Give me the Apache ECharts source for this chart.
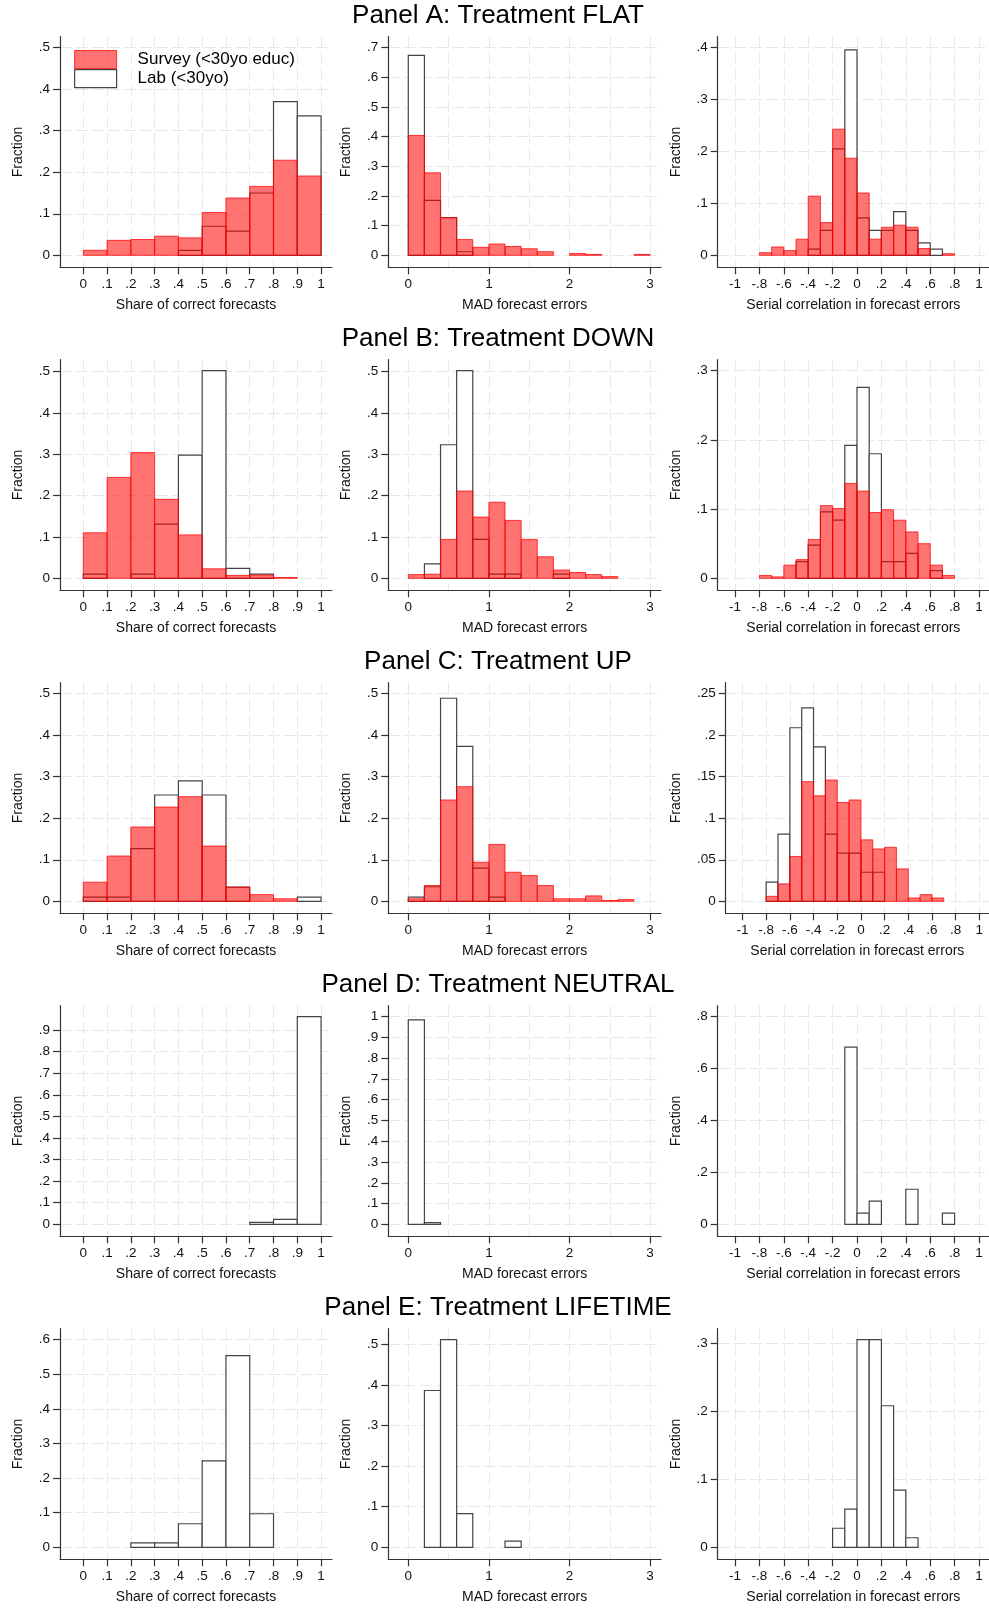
<!DOCTYPE html>
<html>
<head>
<meta charset="utf-8">
<script src="https://cdn.jsdelivr.net/npm/echarts@6/dist/echarts.min.js"></script>
<style>
  html, body { margin: 0; padding: 0; background: #fff; }
  #main { width: 989px; height: 1608px; }
</style>
</head>
<body>
<div id="main"></div>
<script>
// bin left edges
var shareBins = [0, .1, .2, .3, .4, .5, .6, .7, .8, .9];
var madBins = [0, .2, .4, .6, .8, 1, 1.2, 1.4, 1.6, 1.8, 2, 2.2, 2.4, 2.6, 2.8];
var corrBins = [-.8, -.7, -.6, -.5, -.4, -.3, -.2, -.1, 0, .1, .2, .3, .4, .5, .6, .7];

// tick labels
var shareTicks = [0, .1, .2, .3, .4, .5, .6, .7, .8, .9, 1];
var madTicks = [0, 1, 2, 3];
var madGridVals = [0, .5, 1, 1.5, 2, 2.5, 3];
var corrTicks = [-1, -.8, -.6, -.4, -.2, 0, .2, .4, .6, .8, 1];
var yTickMax = [.5, .7, .4, .5, .5, .3, .5, .5, .25, .9, 1, .8, .6, .5, .3];
var yTickStep = [.1, .1, .1, .1, .1, .1, .1, .1, .05, .1, .1, .2, .1, .1, .1];

var titles = ['Panel A: Treatment FLAT', 'Panel B: Treatment DOWN', 'Panel C: Treatment UP',
              'Panel D: Treatment NEUTRAL', 'Panel E: Treatment LIFETIME'];

// Panel A: FLAT
var flatShareSurvey = [.012, .036, .038, .046, .042, .103, .138, .166, .229, .191];
var flatShareLab = [0, 0, 0, 0, .012, .070, .058, .150, .370, .336];
var flatMadSurvey = [.404, .278, .127, .053, .027, .038, .030, .022, .012, 0, .006, .003, 0, 0, .003];
var flatMadLab = [.674, .185, .127, .012, 0, 0, 0, 0, 0, 0, 0, 0, 0, 0, 0];
var flatCorrSurvey = [.005, .016, .009, .031, .114, .063, .243, .187, .120, .031, .054, .058, .054, .013, 0, .003];
var flatCorrLab = [0, 0, 0, 0, .012, .048, .205, .396, .072, .048, .048, .084, .048, .024, .012, 0];

// Panel B: DOWN
var downShareSurvey = [.110, .244, .304, .191, .105, .023, .007, .008, .002, 0];
var downShareLab = [.010, 0, .010, .131, .298, .502, .024, .010, 0, 0];
var downMadSurvey = [.009, .010, .094, .211, .148, .184, .140, .094, .052, .020, .014, .009, .004, 0, 0];
var downMadLab = [0, .035, .323, .502, .094, .010, .010, 0, 0, .010, 0, 0, 0, 0, 0];
var downCorrSurvey = [.004, .002, .019, .027, .056, .105, .101, .137, .126, .095, .099, .084, .067, .050, .019, .004];
var downCorrLab = [0, 0, 0, .024, .048, .096, .084, .192, .276, .180, .024, .024, .036, 0, .011, 0];

// Panel C: UP
var upShareSurvey = [.046, .109, .179, .227, .252, .133, .034, .016, .006, 0];
var upShareLab = [.010, .010, .127, .256, .290, .256, .034, 0, 0, .010];
var upMadSurvey = [.006, .038, .244, .276, .094, .137, .070, .062, .038, .006, .006, .013, .002, .004, 0];
var upMadLab = [.010, .035, .489, .373, .080, .010, 0, 0, 0, 0, 0, 0, 0, 0, 0];
var upCorrSurvey = [.006, .021, .054, .144, .127, .146, .119, .122, .074, .063, .065, .039, .004, .008, .004, 0];
var upCorrLab = [.023, .081, .209, .233, .186, .081, .058, .058, .035, .035, 0, 0, 0, 0, 0, 0];

// Panel D: NEUTRAL (lab only)
var neutralShareLab = [0, 0, 0, 0, 0, 0, 0, .009, .023, .962];
var neutralMadLab = [.985, .008, 0, 0, 0, 0, 0, 0, 0, 0, 0, 0, 0, 0, 0];
var neutralCorrLab = [0, 0, 0, 0, 0, 0, 0, .683, .043, .089, 0, 0, .135, 0, 0, .043];

// Panel E: LIFETIME (lab only)
var lifetimeShareLab = [0, 0, .013, .013, .068, .250, .554, .097, 0, 0];
var lifetimeMadLab = [0, .386, .511, .083, 0, 0, .015, 0, 0, 0, 0, 0, 0, 0, 0];
var lifetimeCorrLab = [0, 0, 0, 0, 0, 0, .028, .056, .305, .305, .208, .084, .014, 0, 0, 0];

var SURVEY = 'Survey (<30yo educ)';
var LAB = 'Lab (<30yo)';
var FONT = '"Liberation Sans", Arial, Helvetica, sans-serif';

var rows = [
    [[flatShareSurvey, flatShareLab], [flatMadSurvey, flatMadLab], [flatCorrSurvey, flatCorrLab]],
    [[downShareSurvey, downShareLab], [downMadSurvey, downMadLab], [downCorrSurvey, downCorrLab]],
    [[upShareSurvey, upShareLab], [upMadSurvey, upMadLab], [upCorrSurvey, upCorrLab]],
    [[null, neutralShareLab], [null, neutralMadLab], [null, neutralCorrLab]],
    [[null, lifetimeShareLab], [null, lifetimeMadLab], [null, lifetimeCorrLab]]
];

var cols = [
    {left: 60, width: 272, xMin: -0.098, xMax: 1.046, bins: shareBins, bw: .1,
        ticks: shareTicks, gridVals: shareTicks, name: 'Share of correct forecasts'},
    {left: 388.3, width: 272.7, xMin: -0.248, xMax: 3.135, bins: madBins, bw: .2,
        ticks: madTicks, gridVals: madGridVals, name: 'MAD forecast errors'},
    {left: 717.7, width: 271.3, xMin: -1.142, xMax: 1.082, bins: corrBins, bw: .1,
        ticks: corrTicks, gridVals: corrTicks, name: 'Serial correlation in forecast errors'}
];

var ROW_STEP = 323, PLOT_TOP = 36.7, PLOT_H = 230.6;
var AXIS_COLOR = '#333';
var GRID_LINE = {color: '#e9e9e9', width: 1, type: [12, 4]};

function fmt(v) {
    if (Math.abs(v) < 1e-9) return '0';
    var s = (Math.round(v * 1000) / 1000).toString();
    return s.replace('0.', '.');
}

var surveyStyle = {fill: 'rgba(255,0,0,0.55)', stroke: 'rgba(255,0,0,0.75)', lineWidth: 1};
var labStyle = {fill: '#fff', stroke: '#444', lineWidth: 1.2};

function barRenderer(style) {
    return function (params, api) {
        var y = api.value(2);
        if (!y) return null;
        var p0 = api.coord([api.value(0), 0]);
        var p1 = api.coord([api.value(1), y]);
        return {
            type: 'rect',
            shape: {x: p0[0], y: p1[1], width: p1[0] - p0[0], height: p0[1] - p1[1]},
            style: style
        };
    };
}

var option = {
    animation: false,
    backgroundColor: '#fff',
    textStyle: {fontFamily: FONT},
    legend: {
        left: 74, top: 50, orient: 'vertical', padding: 0, itemGap: 0,
        itemWidth: 42, itemHeight: 18, selectedMode: false,
        textStyle: {fontSize: 17, color: '#000', lineHeight: 18, padding: [0, 0, 0, 16]},
        data: [
            {name: SURVEY, icon: 'rect', itemStyle: {color: 'rgba(255,0,0,0.55)', borderColor: 'rgba(255,0,0,0.75)', borderWidth: 1}},
            {name: LAB, icon: 'rect', itemStyle: {color: '#fff', borderColor: '#444', borderWidth: 1.2}}
        ]
    },
    graphic: [],
    grid: [], xAxis: [], yAxis: [], series: []
};

rows.forEach(function (row, r) {
    option.graphic.push({
        type: 'text', x: 498, y: 15.5 + ROW_STEP * r, silent: true,
        style: {text: titles[r], fontSize: 26, fontFamily: FONT, fill: '#000',
            textAlign: 'center', textVerticalAlign: 'middle'}
    });
    row.forEach(function (pair, c) {
        var col = cols[c];
        var k = r * 3 + c;
        var gi = option.grid.length;
        var left = col.left, width = col.width, yNameGap = 35;
        if (yTickStep[k] < 0.1) { left += 8; width -= 8; yNameGap = 43; }
        option.grid.push({left: left, top: PLOT_TOP + ROW_STEP * r, width: width, height: PLOT_H});

        var all = (pair[0] || []).concat(pair[1]);
        var top = Math.max(yTickMax[k], Math.max.apply(null, all));
        var yTicks = [];
        for (var i = 0; i * yTickStep[k] <= yTickMax[k] + 1e-9; i++) {
            yTicks.push(Math.round(i * yTickStep[k] * 1000) / 1000);
        }

        var xi = option.xAxis.length;
        option.xAxis.push({
            type: 'value', gridIndex: gi, min: col.xMin, max: col.xMax, position: 'bottom',
            axisLine: {show: true, onZero: false, lineStyle: {color: AXIS_COLOR, width: 1.2}},
            axisTick: {show: true, length: 7, customValues: col.ticks, lineStyle: {color: AXIS_COLOR, width: 1.2}},
            axisLabel: {customValues: col.ticks, formatter: fmt, margin: 10, fontSize: 13.5, color: '#111'},
            splitLine: {show: false},
            name: col.name, nameLocation: 'middle', nameGap: 31,
            nameTextStyle: {fontSize: 14, color: '#111'}
        });
        option.xAxis.push({
            type: 'value', gridIndex: gi, min: col.xMin, max: col.xMax, position: 'bottom',
            axisLine: {show: false}, axisLabel: {show: false},
            axisTick: {show: false, customValues: col.gridVals},
            splitLine: {show: true, lineStyle: GRID_LINE}
        });
        var yi = option.yAxis.length;
        option.yAxis.push({
            type: 'value', gridIndex: gi, min: -0.0578 * top, max: 1.053 * top,
            axisLine: {show: true, onZero: false, lineStyle: {color: AXIS_COLOR, width: 1.2}},
            axisTick: {show: true, length: 7, customValues: yTicks, lineStyle: {color: AXIS_COLOR, width: 1.2}},
            axisLabel: {customValues: yTicks, formatter: fmt, margin: 10, fontSize: 13.5, color: '#111'},
            splitLine: {show: true, lineStyle: GRID_LINE},
            name: 'Fraction', nameLocation: 'middle', nameGap: yNameGap, nameRotate: 90,
            nameTextStyle: {fontSize: 14, color: '#111'}
        });

        function mk(vals) {
            return col.bins.map(function (b, j) { return [b, b + col.bw, vals[j]]; });
        }
        option.series.push({
            type: 'custom', name: LAB, xAxisIndex: xi, yAxisIndex: yi, z: 2,
            renderItem: barRenderer(labStyle), encode: {x: [0, 1], y: 2},
            itemStyle: {color: '#fff', borderColor: '#444'},
            data: mk(pair[1])
        });
        if (pair[0]) {
            option.series.push({
                type: 'custom', name: SURVEY, xAxisIndex: xi, yAxisIndex: yi, z: 3,
                renderItem: barRenderer(surveyStyle), encode: {x: [0, 1], y: 2},
                itemStyle: {color: 'rgba(255,0,0,0.55)', borderColor: 'red'},
                data: mk(pair[0])
            });
        }
    });
});

var chart = echarts.init(document.getElementById('main'));
chart.setOption(option);
</script>
</body>
</html>
